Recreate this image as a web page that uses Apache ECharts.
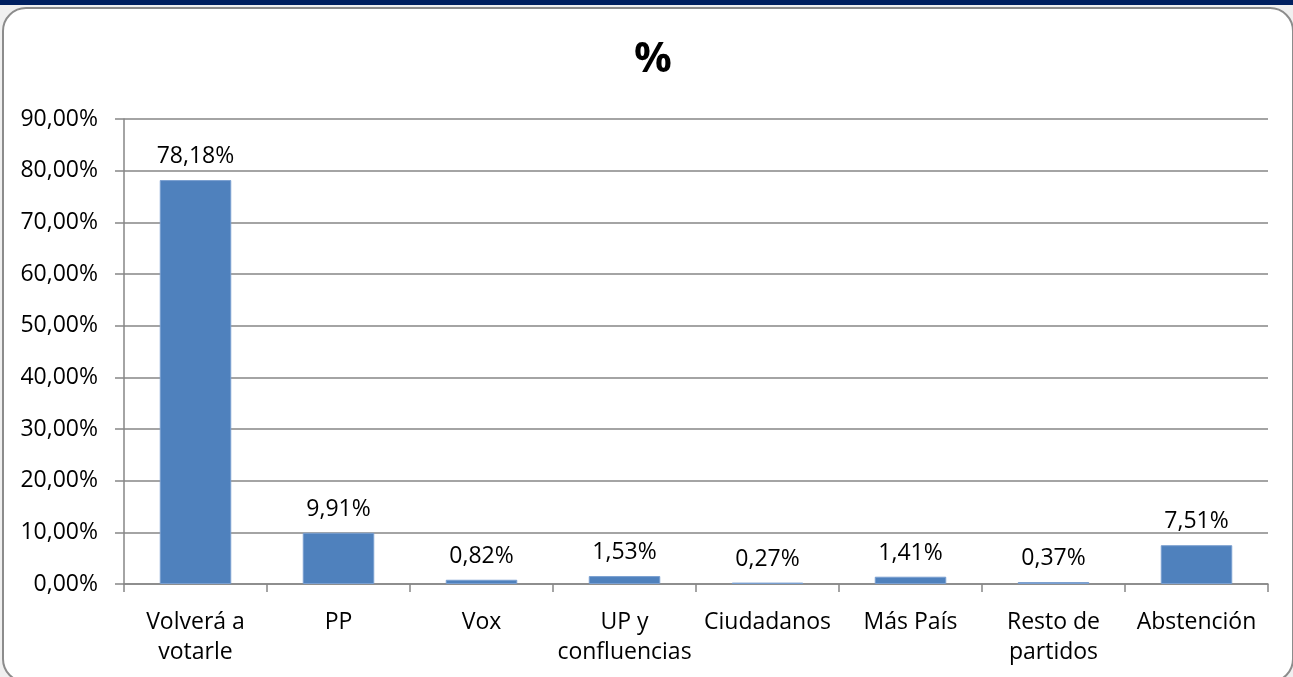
<!DOCTYPE html>
<html>
<head>
<meta charset="utf-8">
<script src="https://cdn.jsdelivr.net/npm/echarts@6/dist/echarts.min.js"></script>
<style>
  html, body { margin: 0; padding: 0; background: #f0f0f0; overflow: hidden; }
  #band { position: absolute; left: 0; top: 0; width: 1293px; height: 5px; background: #002060; }
  #frame { position: absolute; left: 2px; top: 7px; width: 1288px; height: 672px;
           border: 2px solid #8c8c8c; border-radius: 24px; background: #ffffff; }
  #chart { position: absolute; left: 0; top: 0; width: 1293px; height: 677px; }
</style>
</head>
<body>
<div id="band"></div>
<div id="frame"></div>
<div id="chart"></div>
<script>
const categories = ['Volverá a\nvotarle', 'PP', 'Vox', 'UP y\nconfluencias', 'Ciudadanos', 'Más País', 'Resto de\npartidos', 'Abstención'];
const values = [78.18, 9.91, 0.82, 1.53, 0.27, 1.41, 0.37, 7.51];
const yTicks = { min: 0, max: 90, step: 10 };

const fmt = v => v.toFixed(2).replace('.', ',') + '%';
const font = '"Open Sans", "Noto Sans", "Liberation Sans", sans-serif';

const chart = echarts.init(document.getElementById('chart'), null, { renderer: 'canvas' });
const option = {
    backgroundColor: 'transparent',
    animation: false,
    title: {
        text: '%',
        left: 648,
        textAlign: 'center',
        top: 34,
        textStyle: { fontSize: 42, fontWeight: 'bold', color: '#000', fontFamily: font }
    },
    grid: { left: 124, right: 25, top: 119, bottom: 93 },
    xAxis: {
        type: 'category',
        data: categories,
        axisLine: { lineStyle: { color: '#868686', width: 1.5 } },
        axisTick: { show: true, length: 8, lineStyle: { color: '#868686', width: 1.5 } },
        axisLabel: {
            color: '#000', fontSize: 23, fontFamily: font, lineHeight: 30,
            margin: 23, interval: 0
        }
    },
    yAxis: {
        type: 'value',
        min: yTicks.min,
        max: yTicks.max,
        interval: yTicks.step,
        axisLine: { show: true, lineStyle: { color: '#868686', width: 1.5 } },
        axisTick: { show: true, length: 9, lineStyle: { color: '#868686', width: 1.5 } },
        splitLine: { show: true, lineStyle: { color: '#868686', width: 1.5 } },
        axisLabel: {
            color: '#000', fontSize: 23, fontFamily: font, margin: 26,
            formatter: fmt
        }
    },
    series: [{
        type: 'bar',
        data: values,
        barWidth: '50%',
        itemStyle: { color: '#4f81bd', borderColor: '#7a9fd0', borderWidth: 1 },
        label: {
            show: true,
            position: 'top',
            distance: 12,
            color: '#000',
            fontSize: 23,
            fontFamily: font,
            formatter: p => fmt(p.value)
        }
    }]
};
chart.setOption(option);
</script>
</body>
</html>
